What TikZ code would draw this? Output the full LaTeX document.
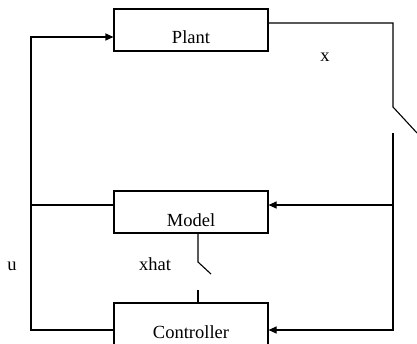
\documentclass[tikz,border=0pt]{standalone}
\usepackage{fontspec}
\setmainfont{Liberation Serif}
\usetikzlibrary{arrows.meta}
\begin{document}
\begin{tikzpicture}[x=1pt,y=-1pt,line width=1.1pt,
    block/.style={draw,rectangle,minimum width=154pt,minimum height=42pt,
      inner sep=0pt,text height=35pt,text depth=7pt,
      font=\rmfamily\fontsize{18.5}{21}\selectfont},
    lbl/.style={inner sep=0pt,font=\rmfamily\fontsize{18.5}{21}\selectfont},
    arr/.style={-{Triangle[length=8pt,width=7pt]}}]
      \useasboundingbox (0,0) rectangle (417,343);
      \node[block,text height=34pt,text depth=8pt] (plant) at (191,30) {Plant};
      \node[block] (model) at (191,212) {Model};
      \node[block] (ctrl) at (191,324) {Controller};
      \coordinate (ul) at (31,37);
      \coordinate (ur) at (393,23);
      \coordinate (sw1) at (393,107);
      \coordinate (sw1b) at (417,133);
      \coordinate (sw1c) at (393,133);
      \coordinate (sw2) at (198,262);
      \coordinate (sw2b) at (211,274);
      \coordinate (sw2c) at (198,290);
      \node[lbl] (x) at (325,57) {x};
      \node[lbl] (xhat) at (155,264) {xhat};
      \node[lbl] (u) at (12,266) {u};
      \begin{scope}
        \draw[arr] ([yshift=-6pt]ctrl.west) -| (ul) -- ([yshift=-7pt]plant.west);
        \draw ([yshift=7pt]model.west) -- ([yshift=7pt]model.west -| ul);
        \draw ([yshift=7pt]plant.east) -- (ur) -- (sw1) -- (sw1b);
        \draw[arr] (sw1c) |- ([yshift=-6pt]ctrl.east);
        \draw[arr] ([yshift=7pt]model.east -| sw1c) -- ([yshift=7pt]model.east);
        \draw ([xshift=7pt]model.south) -- (sw2) -- (sw2b);
        \draw (sw2c) -- ([xshift=7pt]ctrl.north);
      \end{scope}
\end{tikzpicture}
\end{document}
